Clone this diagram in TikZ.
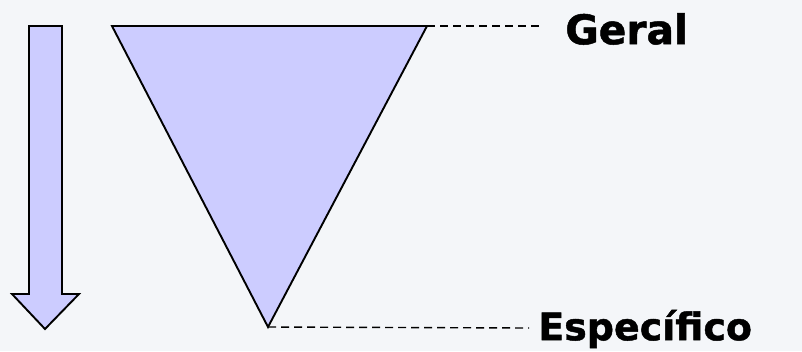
\documentclass[tikz,border=0pt]{standalone}
\usepackage{fontspec}
\newfontfamily\labelfont[FakeBold=1.2]{DejaVu Sans}
\usetikzlibrary{positioning}
\definecolor{lilac}{HTML}{CCCCFF}
\definecolor{paper}{HTML}{F4F6F9}

\begin{document}
\begin{tikzpicture}[x=0.025cm,y=-0.025cm,font=\labelfont\bfseries,
    funnelbox/.style={fill=lilac,draw=black,line width=1.35pt,line join=miter},
    guide/.style={dashed,dash pattern=on 0.2cm off 0.125cm,line width=1pt},
    lbl/.style={inner sep=0pt,anchor=west}]
    \fill[paper] (0,0) rectangle (802,351);
    \useasboundingbox (0,0) rectangle (802,351);
    % downward arrow
    \filldraw[funnelbox] (29,26) -- (62,26) -- (62,294) -- (79,294) -- (45,329)
      -- (12,294) -- (29,294) -- cycle;
    % funnel
    \coordinate (tl) at (112,26);
    \coordinate (tr) at (427,26);
    \coordinate (tip) at (268,327);
    \filldraw[funnelbox] (tl) -- (tr) -- (tip) -- cycle;
    \coordinate (gend) at (543,26);
    \coordinate (send) at (529,328);
    \node[lbl,right=0.55cm of gend,yshift=-0.075cm,font=\labelfont\bfseries\fontsize{29}{34}\selectfont] (geral) {Geral};
    \node[lbl,right=0.225cm of send,yshift=-0.025cm,font=\labelfont\bfseries\fontsize{27}{32}\selectfont] (espec) {Específico};
    \draw[guide] (tr) -- (gend);
    \draw[guide] (tip) -- (send);
  \end{tikzpicture}
\end{document}
